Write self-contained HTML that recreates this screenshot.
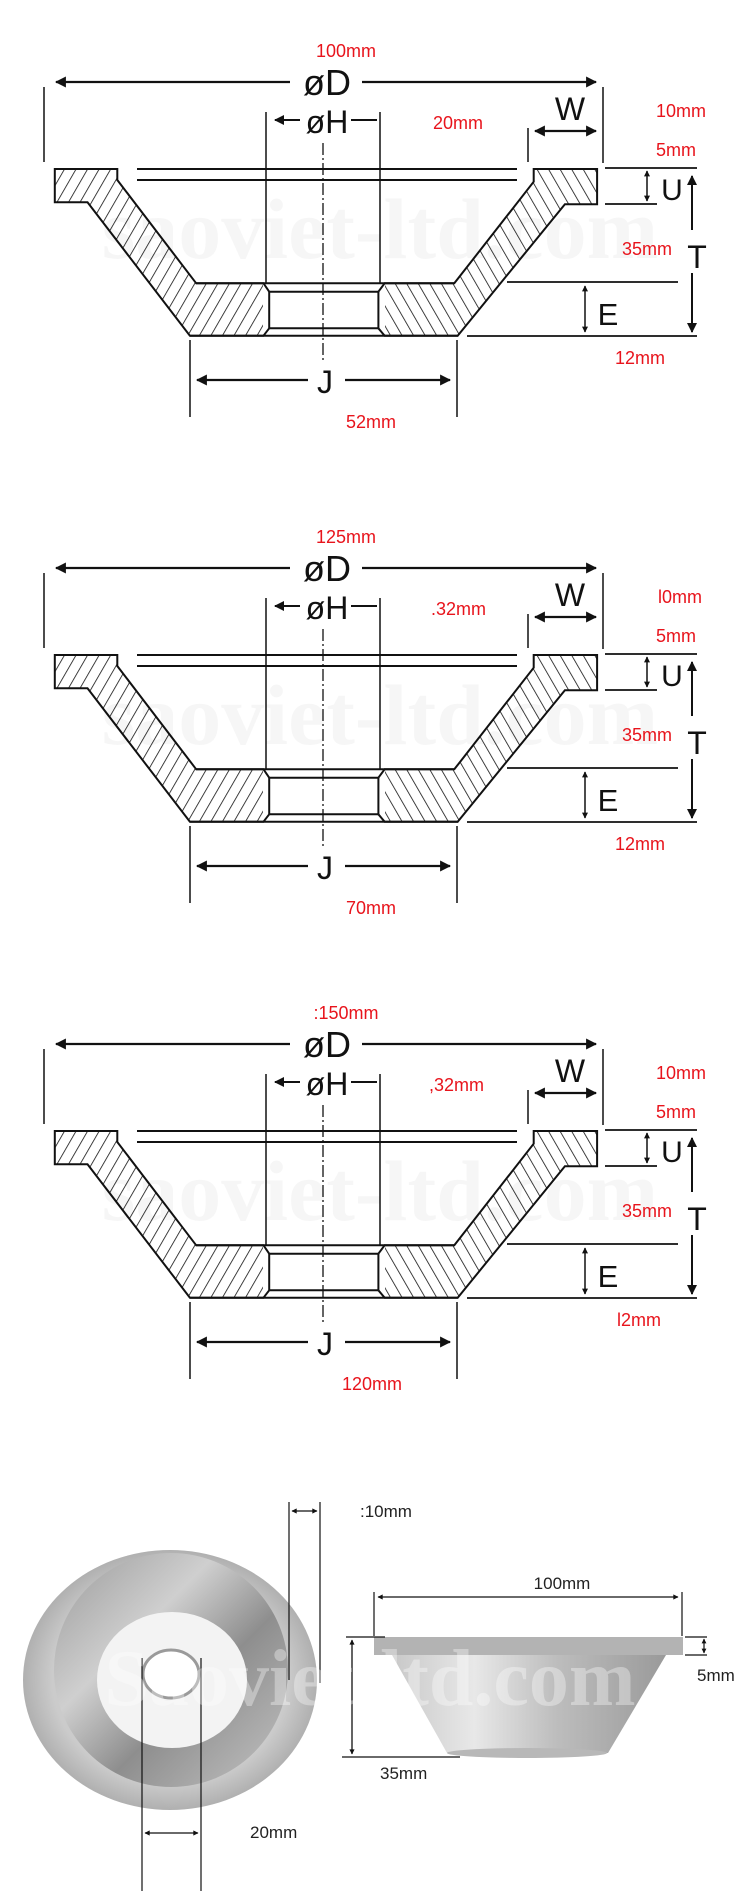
<!DOCTYPE html>
<html><head><meta charset="utf-8"><style>
html,body{margin:0;padding:0;background:#fff;}
svg{display:block;}
.r{fill:#e8141c;font-family:"Liberation Sans",sans-serif;font-size:18px;}
.b{fill:#111;font-family:"Liberation Sans",sans-serif;}
.k{fill:#222;font-family:"Liberation Sans",sans-serif;font-size:17px;}
</style></head><body>
<svg width="750" height="1891" viewBox="0 0 750 1891" xmlns="http://www.w3.org/2000/svg">
<defs>
<pattern id="hl" patternUnits="userSpaceOnUse" width="10" height="10" patternTransform="rotate(30)">
<rect width="10" height="10" fill="#fff"/><line x1="0" y1="0" x2="0" y2="10" stroke="#111" stroke-width="1.6"/></pattern>
<pattern id="hr" patternUnits="userSpaceOnUse" width="10" height="10" patternTransform="rotate(-30)">
<rect width="10" height="10" fill="#fff"/><line x1="0" y1="0" x2="0" y2="10" stroke="#111" stroke-width="1.6"/></pattern>
<marker id="ah" viewBox="0 0 10 10" refX="9" refY="5" markerWidth="5" markerHeight="5" orient="auto-start-reverse"><path d="M0,0 L10,5 L0,10z" fill="#111"/></marker>
<marker id="as" viewBox="0 0 10 10" refX="9" refY="5" markerWidth="7" markerHeight="4" orient="auto-start-reverse"><path d="M0,0 L10,5 L0,10z" fill="#111"/></marker>
<g id="dg" stroke="#111" fill="none">
<polygon points="54.8,169 117.3,169 117.3,180 196.2,283.3 263.5,283.3 269.2,291.7 269.2,328.3 263.5,335.7 189.9,335.7 87.5,202.3 54.8,202.3" fill="url(#hl)" stroke-width="2"/>
<polygon points="597.1,169 533.7,169 533.7,181.7 454.3,283.3 384.6,283.3 378.4,291.7 378.4,328.3 384.6,335.7 457.7,335.7 564.9,204.3 597.1,204.3" fill="url(#hr)" stroke-width="2"/>
<rect x="263" y="284" width="122" height="51" fill="#fff" stroke="none"/>
<line x1="196" y1="283.3" x2="454" y2="283.3" stroke-width="2"/>
<line x1="190" y1="335.7" x2="458" y2="335.7" stroke-width="2"/>
<line x1="269.2" y1="291.7" x2="378.4" y2="291.7" stroke-width="2"/>
<line x1="269.2" y1="328.3" x2="378.4" y2="328.3" stroke-width="2"/>
<line x1="263.5" y1="283.3" x2="269.2" y2="291.7" stroke-width="2"/>
<line x1="263.5" y1="335.7" x2="269.2" y2="328.3" stroke-width="2"/>
<line x1="384.6" y1="283.3" x2="378.4" y2="291.7" stroke-width="2"/>
<line x1="384.6" y1="335.7" x2="378.4" y2="328.3" stroke-width="2"/>
<line x1="269.2" y1="291.7" x2="269.2" y2="328.3" stroke-width="2"/>
<line x1="378.4" y1="291.7" x2="378.4" y2="328.3" stroke-width="2"/>
<line x1="137" y1="169" x2="517" y2="169" stroke-width="2"/>
<line x1="137" y1="180" x2="517" y2="180" stroke-width="2"/>
<line x1="323" y1="143" x2="323" y2="360" stroke-width="1.3" stroke-dasharray="12,3,2,3"/>
<line x1="266" y1="112" x2="266" y2="283" stroke-width="1.5"/>
<line x1="380" y1="112" x2="380" y2="283" stroke-width="1.5"/>
<line x1="300" y1="120" x2="275" y2="120" stroke-width="2" marker-end="url(#ah)"/>
<line x1="351" y1="120" x2="377" y2="120" stroke-width="2"/>
<line x1="290" y1="82" x2="56" y2="82" stroke-width="2.2" marker-end="url(#ah)"/>
<line x1="362" y1="82" x2="596" y2="82" stroke-width="2.2" marker-end="url(#ah)"/>
<line x1="44" y1="87" x2="44" y2="162" stroke-width="1.5"/>
<line x1="603" y1="87" x2="603" y2="163" stroke-width="1.5"/>
<line x1="528" y1="128" x2="528" y2="162" stroke-width="1.5"/>
<line x1="535" y1="131" x2="596" y2="131" stroke-width="2.2" marker-start="url(#ah)" marker-end="url(#ah)"/>
<line x1="605" y1="168" x2="697" y2="168" stroke-width="1.8"/>
<line x1="605" y1="204" x2="657" y2="204" stroke-width="1.8"/>
<line x1="647" y1="171" x2="647" y2="201" stroke-width="1.5" marker-start="url(#as)" marker-end="url(#as)"/>
<line x1="692" y1="230" x2="692" y2="176" stroke-width="2" marker-end="url(#ah)"/>
<line x1="692" y1="273" x2="692" y2="332" stroke-width="2" marker-end="url(#ah)"/>
<line x1="507" y1="282" x2="678" y2="282" stroke-width="1.8"/>
<line x1="467" y1="336" x2="697" y2="336" stroke-width="1.8"/>
<line x1="585" y1="286" x2="585" y2="332" stroke-width="1.5" marker-start="url(#as)" marker-end="url(#as)"/>
<line x1="190" y1="340" x2="190" y2="417" stroke-width="1.5"/>
<line x1="457" y1="340" x2="457" y2="417" stroke-width="1.5"/>
<line x1="308" y1="380" x2="197" y2="380" stroke-width="2.2" marker-end="url(#ah)"/>
<line x1="345" y1="380" x2="450" y2="380" stroke-width="2.2" marker-end="url(#ah)"/>
<text x="327" y="95" class="b" font-size="36" text-anchor="middle" stroke="none">øD</text>
<text x="327" y="133" class="b" font-size="32" text-anchor="middle" stroke="none">øH</text>
<text x="570" y="120" class="b" font-size="32" text-anchor="middle" stroke="none">W</text>
<text x="672" y="200" class="b" font-size="30" text-anchor="middle" stroke="none">U</text>
<text x="697" y="268" class="b" font-size="32" text-anchor="middle" stroke="none">T</text>
<text x="608" y="325" class="b" font-size="31" text-anchor="middle" stroke="none">E</text>
<text x="325" y="393" class="b" font-size="32" text-anchor="middle" stroke="none">J</text>
<text x="380" y="258" font-family="Liberation Serif,serif" font-weight="bold" font-size="86" text-anchor="middle" fill="#000" fill-opacity="0.035" stroke="none">saoviet-ltd.com</text>
</g>
<radialGradient id="rim" cx="0.5" cy="0.5" r="0.5"><stop offset="0.8" stop-color="#cbcbcb"/><stop offset="1" stop-color="#b0b0b0"/></radialGradient>
<linearGradient id="cone" x1="0" y1="0" x2="1" y2="1"><stop offset="0" stop-color="#9a9a9a"/><stop offset="0.35" stop-color="#cfcfcf"/><stop offset="0.6" stop-color="#8e8e8e"/><stop offset="1" stop-color="#c4c4c4"/></linearGradient>
<linearGradient id="cone2" x1="0" y1="0" x2="1" y2="0"><stop offset="0" stop-color="#c8c8c8"/><stop offset="0.3" stop-color="#e8e8e8"/><stop offset="0.6" stop-color="#bdbdbd"/><stop offset="1" stop-color="#9a9a9a"/></linearGradient>
</defs>

<use href="#dg"/>
<use href="#dg" y="486"/>
<use href="#dg" y="962"/>

<g class="r">
<text x="346" y="57" text-anchor="middle">100mm</text>
<text x="433" y="129">20mm</text>
<text x="656" y="117">10mm</text>
<text x="656" y="156">5mm</text>
<text x="622" y="255">35mm</text>
<text x="615" y="364">12mm</text>
<text x="371" y="428" text-anchor="middle">52mm</text>

<text x="346" y="543" text-anchor="middle">125mm</text>
<text x="431" y="615">.32mm</text>
<text x="658" y="603">l0mm</text>
<text x="656" y="642">5mm</text>
<text x="622" y="741">35mm</text>
<text x="615" y="850">12mm</text>
<text x="371" y="914" text-anchor="middle">70mm</text>

<text x="346" y="1019" text-anchor="middle">:150mm</text>
<text x="429" y="1091">,32mm</text>
<text x="656" y="1079">10mm</text>
<text x="656" y="1118">5mm</text>
<text x="622" y="1217">35mm</text>
<text x="617" y="1326">l2mm</text>
<text x="372" y="1390" text-anchor="middle">120mm</text>
</g>

<ellipse cx="170" cy="1680" rx="147" ry="130" fill="url(#rim)"/>
<ellipse cx="171" cy="1670" rx="117" ry="117" fill="url(#cone)"/>
<ellipse cx="172" cy="1680" rx="75" ry="68" fill="#f3f3f3"/>
<ellipse cx="171" cy="1674" rx="28" ry="24" fill="#fff" stroke="#9a9a9a" stroke-width="3"/>
<line x1="142" y1="1658" x2="142" y2="1891" stroke="#111" stroke-width="1.2"/>
<line x1="201" y1="1658" x2="201" y2="1891" stroke="#111" stroke-width="1.2"/>
<line x1="145" y1="1833" x2="198" y2="1833" stroke="#111" stroke-width="1.3" marker-start="url(#as)" marker-end="url(#as)"/>
<text x="250" y="1838" class="k">20mm</text>
<line x1="289" y1="1502" x2="289" y2="1680" stroke="#111" stroke-width="1.2"/>
<line x1="320" y1="1502" x2="320" y2="1683" stroke="#111" stroke-width="1.2"/>
<line x1="292" y1="1511" x2="317" y2="1511" stroke="#111" stroke-width="1.3" marker-start="url(#as)" marker-end="url(#as)"/>
<text x="360" y="1517" class="k">:10mm</text>

<polygon points="392,1655 666,1655 608,1753 447,1753" fill="url(#cone2)"/>
<ellipse cx="527" cy="1753" rx="80" ry="5" fill="#b8b8b8"/>
<rect x="374" y="1637" width="309" height="18" fill="#b3b3b3"/>
<line x1="374" y1="1592" x2="374" y2="1636" stroke="#111" stroke-width="1.2"/>
<line x1="682" y1="1592" x2="682" y2="1636" stroke="#111" stroke-width="1.2"/>
<line x1="378" y1="1597" x2="678" y2="1597" stroke="#111" stroke-width="1.3" marker-start="url(#as)" marker-end="url(#as)"/>
<text x="562" y="1589" class="k" text-anchor="middle">100mm</text>
<line x1="346" y1="1637" x2="385" y2="1637" stroke="#111" stroke-width="1.2"/>
<line x1="352" y1="1640" x2="352" y2="1754" stroke="#111" stroke-width="1.3" marker-start="url(#as)" marker-end="url(#as)"/>
<line x1="342" y1="1757" x2="460" y2="1757" stroke="#111" stroke-width="1.2"/>
<text x="380" y="1779" class="k">35mm</text>
<line x1="685" y1="1637" x2="707" y2="1637" stroke="#111" stroke-width="1.2"/>
<line x1="685" y1="1655" x2="707" y2="1655" stroke="#111" stroke-width="1.2"/>
<line x1="704" y1="1639" x2="704" y2="1653" stroke="#111" stroke-width="1.2" marker-start="url(#as)" marker-end="url(#as)"/>
<text x="697" y="1681" class="k">5mm</text>
<text x="370" y="1705" text-anchor="middle" font-family="Liberation Serif,serif" font-weight="bold" font-size="80" fill="#fff" fill-opacity="0.35">Saoviet-ltd.com</text>
</svg>
</body></html>
